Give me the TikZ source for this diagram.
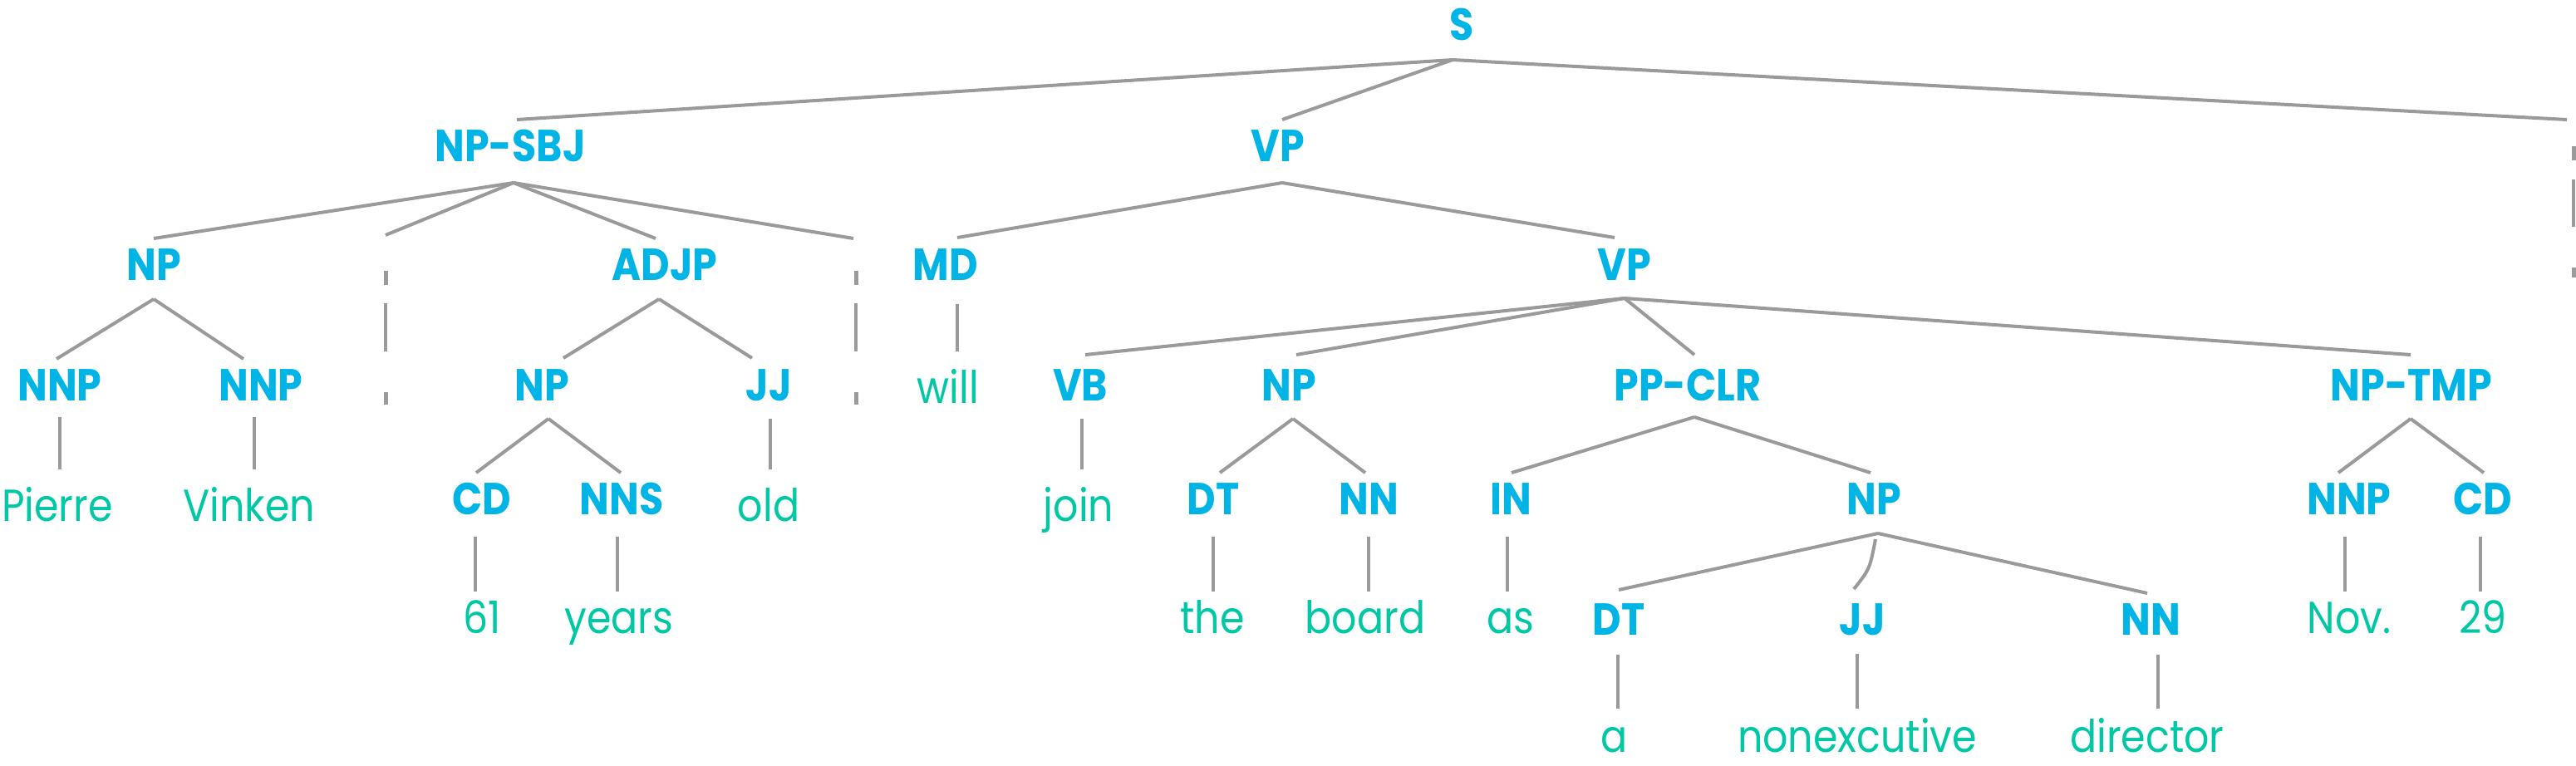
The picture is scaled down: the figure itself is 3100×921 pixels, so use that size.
\documentclass[tikz,border=0pt]{standalone}
\usepackage{fontspec}
\setmainfont{Poppins}[FakeStretch=0.88]
\usetikzlibrary{calc}
\definecolor{labblue}{HTML}{00B4E6}
\definecolor{wordteal}{HTML}{00C8A5}
\definecolor{linegray}{HTML}{9A9A9A}
\tikzset{
  lab/.style={anchor=base, inner sep=0pt, text=labblue, font=\fontsize{54}{60}\selectfont\bfseries},
  word/.style={anchor=base, inner sep=0pt, text=wordteal, font=\fontsize{54}{60}\selectfont},
  edge/.style={draw=linegray, line width=4pt},
  punct/.style={fill=linegray, draw=none, inner sep=0pt, minimum width=5pt, anchor=north},
}
\newcommand\tedge[4]{\draw[edge] ($(#1.base)+(#2)$) -- ($(#3.base)+(#4)$);}
\begin{document}
\begin{tikzpicture}[x=1pt,y=-1pt]
\useasboundingbox (0,0) rectangle (3100,921);
% row 0-1
\node[lab] (S) at (1759,48) {S};
\node[lab] (NPSBJ) at (614,194) {NP-SBJ};
\node[lab] (VP) at (1538,194) {VP};
\node[punct, minimum height=17pt] (P1) at (3097,176) {};
\node[punct, minimum height=12pt] (P1w) at (3097,322) {};
% row 2
\node[lab] (NP1) at (185,337) {NP};
\node[punct, minimum height=17pt] (C1) at (464,326) {};
\node[punct, minimum height=15pt] (C1w) at (464,472) {};
\node[lab] (ADJP) at (800,337) {ADJP};
\node[punct, minimum height=17pt] (C2) at (1030,326) {};
\node[punct, minimum height=15pt] (C2w) at (1030,472) {};
\node[lab] (MD) at (1138,337) {MD};
\node[lab] (VP2) at (1955,337) {VP};
% row 3
\node[lab] (NNP1) at (72,482) {NNP};
\node[lab] (NNP2) at (314,482) {NNP};
\node[lab] (NP3) at (652,482) {NP};
\node[lab] (JJ1) at (925,482) {JJ};
\node[word] (will) at (1141,485) {will};
\node[lab] (VB) at (1300,482) {VB};
\node[lab] (NP4) at (1551,482) {NP};
\node[lab] (PPCLR) at (2031,482) {PP-CLR};
\node[lab] (NPTMP) at (2902,482) {NP-TMP};
% row 4
\node[word] (Pierre) at (69,627) {Pierre};
\node[word] (Vinken) at (300,627) {Vinken};
\node[lab] (CD1) at (580,619) {CD};
\node[lab] (NNS) at (748,619) {NNS};
\node[word] (old) at (925,627) {old};
\node[word] (join) at (1298,627) {join};
\node[lab] (DT1) at (1460,619) {DT};
\node[lab] (NN1) at (1647,619) {NN};
\node[lab] (IN) at (1818,619) {IN};
\node[lab] (NP5) at (2255,619) {NP};
\node[lab] (NNP3) at (2827,619) {NNP};
\node[lab] (CD2) at (2988,619) {CD};
% row 5
\node[word] (w61) at (580,762) {61};
\node[word] (years) at (745,762) {years};
\node[word] (the) at (1459,762) {the};
\node[word] (board) at (1643,762) {board};
\node[word] (as) at (1818,762) {as};
\node[lab] (DT2) at (1948,764) {DT};
\node[lab] (JJ2) at (2241,764) {JJ};
\node[lab] (NN2) at (2588,764) {NN};
\node[word] (Nov) at (2827,762) {Nov.};
\node[word] (w29) at (2988,762) {29};
% row 6
\node[word] (a) at (1943,905) {a};
\node[word] (nonex) at (2235,905) {nonexcutive};
\node[word] (director) at (2584,905) {director};
% edges from S
\tedge{S}{-11,24}{NPSBJ}{8,-50}
\tedge{S}{-11,24}{VP}{5,-50}
\draw[edge] ($(S.base)+(-11,24)$) -- ($(P1.north)+(-8,-32)$);
\draw[edge] ($(P1.south)+(0,23)$) -- ($(P1w.north)+(0,-49)$);
% NP-SBJ
\tedge{NPSBJ}{4,26}{NP1}{0,-50}
\draw[edge] ($(NPSBJ.base)+(4,26)$) -- ($(C1.north)+(0,-43)$);
\tedge{NPSBJ}{4,26}{ADJP}{-11,-50}
\draw[edge] ($(NPSBJ.base)+(4,26)$) -- ($(C2.north)+(-3,-39)$);
\draw[edge] ($(C1.south)+(0,22)$) -- ($(C1w.north)+(0,-49)$);
\draw[edge] ($(C2.south)+(0,22)$) -- ($(C2w.north)+(0,-49)$);
% VP
\tedge{VP}{5,26}{MD}{14,-51}
\tedge{VP}{5,26}{VP2}{-12,-51}
% row 2 -> 3
\tedge{NP1}{0,23}{NNP1}{-4,-50}
\tedge{NP1}{0,23}{NNP2}{-21,-50}
\tedge{ADJP}{-7,23}{NP3}{26,-51}
\tedge{ADJP}{-7,23}{JJ1}{-20,-51}
\tedge{MD}{14,29}{will}{11,-62}
\tedge{VP2}{0,22}{VB}{6,-55}
\tedge{VP2}{0,22}{NP4}{9,-55}
\tedge{VP2}{0,22}{PPCLR}{8,-55}
\tedge{VP2}{0,22}{NPTMP}{-1,-55}
% row 3 -> 4
\tedge{NNP1}{0,20}{Pierre}{3,-62}
\tedge{NNP2}{-8,20}{Vinken}{6,-62}
\tedge{NP3}{8,22}{CD1}{-7,-50}
\tedge{NP3}{8,22}{NNS}{-1,-50}
\tedge{JJ1}{2,22}{old}{2,-62}
\tedge{VB}{2,22}{join}{4,-62}
\tedge{NP4}{5,22}{DT1}{8,-50}
\tedge{NP4}{5,22}{NN1}{-4,-50}
\tedge{PPCLR}{8,20}{IN}{1,-50}
\tedge{PPCLR}{8,20}{NP5}{-4,-50}
\tedge{NPTMP}{-1,22}{NNP3}{-13,-50}
\tedge{NPTMP}{-1,22}{CD2}{1,-50}
% row 4 -> 5
\tedge{CD1}{-8,27}{w61}{-8,-50}
\tedge{NNS}{-5,27}{years}{-2,-50}
\tedge{DT1}{0,27}{the}{1,-50}
\tedge{NN1}{0,27}{board}{4,-50}
\tedge{IN}{-4,27}{as}{-4,-50}
\tedge{NP5}{5,23}{DT2}{0,-54}
\tedge{NP5}{5,23}{NN2}{-4,-50}
\draw[edge] ($(NP5.base)+(2,30)$) .. controls ($(NP5.base)+(-5,66)$) .. ($(JJ2.base)+(-10,-55)$);
\tedge{NNP3}{-5,27}{Nov}{-5,-50}
\tedge{CD2}{-3,27}{w29}{-3,-50}
% row 5 -> 6
\tedge{DT2}{-1,24}{a}{4,-52}
\tedge{JJ2}{-6,23}{nonex}{0,-52}
\tedge{NN2}{9,24}{director}{13,-52}
\end{tikzpicture}
\end{document}
